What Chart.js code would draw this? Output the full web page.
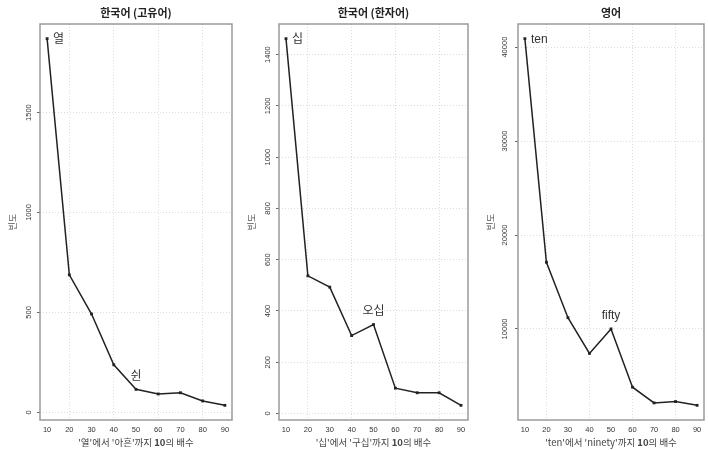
<!DOCTYPE html>
<html>
<head>
<meta charset="utf-8">
<script src="https://cdn.jsdelivr.net/npm/chart.js@4/dist/chart.umd.min.js"></script>
<style>
  body { margin: 0; background: #fff; width: 708px; height: 450px; position: relative; overflow: hidden; }
  canvas { position: absolute; top: 0; }
</style>
</head>
<body>
<canvas id="c1" width="236" height="450" style="left:0"></canvas>
<canvas id="c2" width="236" height="450" style="left:236px"></canvas>
<canvas id="c3" width="236" height="450" style="left:472px"></canvas>
<script>
// x values: multiples of ten
var decades = [10, 20, 30, 40, 50, 60, 70, 80, 90];
var xTicks = [10, 20, 30, 40, 50, 60, 70, 80, 90];
var xGrid = [20, 40, 60, 80];

// frequencies
var nativeFreq = [1870, 688, 492, 238, 115, 92, 98, 57, 35];
var sinoFreq = [1462, 537, 493, 304, 347, 99, 81, 81, 32];
var englishFreq = [40900, 17100, 11200, 7400, 10000, 3800, 2130, 2270, 1870];

// y tick labels
var nativeTicks = [0, 500, 1000, 1500];
var sinoTicks = [0, 200, 400, 600, 800, 1000, 1200, 1400];
var englishTicks = [10000, 20000, 30000, 40000];

var FONT = '"Liberation Sans", "Noto Sans CJK KR", sans-serif';
var KFONT = '"Noto Sans CJK KR", sans-serif';

// draws box, titles and point labels for one panel
function panelText(t) {
    return {
        id: 'panelText',
        afterDraw: function(chart) {
            var ctx = chart.ctx, a = chart.chartArea;
            var cx = (a.left + a.right) / 2;
            ctx.save();
            ctx.strokeStyle = '#9a9a9a';
            ctx.lineWidth = 1.5;
            ctx.strokeRect(a.left, a.top, a.right - a.left, a.bottom - a.top);

            ctx.fillStyle = '#222';
            ctx.textAlign = 'center';
            ctx.textBaseline = 'middle';
            ctx.font = 'bold 11px ' + KFONT;
            ctx.fillText(t.title, cx, 13);

            // x title, with the bold "10"
            var parts = t.xTitle;
            var total = 0;
            parts.forEach(function(p) {
                ctx.font = (p[1] ? 'bold ' : '') + '9.5px ' + KFONT;
                total += ctx.measureText(p[0]).width;
            });
            var x = cx - total / 2;
            ctx.textAlign = 'left';
            ctx.fillStyle = '#444';
            parts.forEach(function(p) {
                ctx.font = (p[1] ? 'bold ' : '') + '9.5px ' + KFONT;
                ctx.fillText(p[0], x, 442);
                x += ctx.measureText(p[0]).width;
            });

            // y title
            ctx.save();
            ctx.translate(a.left - 27, (a.top + a.bottom) / 2);
            ctx.rotate(-Math.PI / 2);
            ctx.textAlign = 'center';
            ctx.font = '9px ' + KFONT;
            ctx.fillStyle = '#555';
            ctx.fillText('빈도', 0, 0);
            ctx.restore();

            // point labels
            var meta = chart.getDatasetMeta(0);
            ctx.font = '12px ' + FONT;
            ctx.fillStyle = '#333';
            t.labels.forEach(function(l) {
                var pt = meta.data[l.index];
                if (l.pos === 'right') {
                    ctx.textAlign = 'left';
                    ctx.fillText(l.text, pt.x + 6, pt.y + 1);
                } else {
                    ctx.textAlign = 'center';
                    ctx.fillText(l.text, pt.x, pt.y - 13);
                }
            });
            ctx.restore();
        }
    };
}

function plain(v) {
    return String(v);
}

function makeChart(id, values, yTicks, yWidth, padRight, text) {
    var lo = Math.min.apply(null, values), hi = Math.max.apply(null, values);
    var ext = (hi - lo) * 0.04;
    return new Chart(document.getElementById(id).getContext('2d'), {
        type: 'line',
        data: {
            labels: decades,
            datasets: [{
                data: decades.map(function(d, i) { return { x: d, y: values[i] }; }),
                borderColor: '#222',
                borderWidth: 1.5,
                pointStyle: 'rect',
                pointRadius: 2,
                pointBackgroundColor: '#222',
                pointBorderWidth: 0,
                tension: 0
            }]
        },
        options: {
            responsive: false,
            animation: false,
            devicePixelRatio: 1,
            layout: { padding: { top: 24, right: padRight, left: 0, bottom: 0 } },
            plugins: { legend: { display: false }, tooltip: { enabled: false } },
            scales: {
                x: {
                    type: 'linear',
                    min: 10 - 3.2,
                    max: 90 + 3.2,
                    afterBuildTicks: function(s) { s.ticks = xTicks.map(function(v) { return { value: v }; }); },
                    afterFit: function(s) { s.height = 30; },
                    ticks: { font: { size: 7.5, family: FONT }, color: '#333', padding: 5, maxRotation: 0, autoSkip: false, callback: plain },
                    grid: {
                        drawTicks: false,
                        color: function(c) { return c.tick && xGrid.indexOf(c.tick.value) >= 0 ? '#dcdcdc' : 'rgba(0,0,0,0)'; }
                    },
                    border: { display: false, dash: [1, 2] }
                },
                y: {
                    min: lo - ext,
                    max: hi + ext,
                    afterBuildTicks: function(s) { s.ticks = yTicks.map(function(v) { return { value: v }; }); },
                    afterFit: function(s) { s.width = yWidth; },
                    ticks: { font: { size: 7.5, family: FONT }, color: '#333', minRotation: 90, maxRotation: 90, crossAlign: 'center', padding: 0, callback: plain },
                    grid: { color: '#dcdcdc', tickColor: '#666', tickLength: 3, tickBorderDash: [] },
                    border: { display: false, dash: [1, 2] }
                }
            }
        },
        plugins: [panelText(text)]
    });
}

makeChart('c1', nativeFreq, nativeTicks, 40, 3, {
    title: '한국어 (고유어)',
    xTitle: [["'열'에서 '아흔'까지 ", false], ['10', true], ['의 배수', false]],
    labels: [{ index: 0, text: '열', pos: 'right' }, { index: 4, text: '쉰', pos: 'top' }]
});
makeChart('c2', sinoFreq, sinoTicks, 43, 1, {
    title: '한국어 (한자어)',
    xTitle: [["'십'에서 '구십'까지 ", false], ['10', true], ['의 배수', false]],
    labels: [{ index: 0, text: '십', pos: 'right' }, { index: 4, text: '오십', pos: 'top' }]
});
makeChart('c3', englishFreq, englishTicks, 46, 0, {
    title: '영어',
    xTitle: [["'ten'에서 'ninety'까지 ", false], ['10', true], ['의 배수', false]],
    labels: [{ index: 0, text: 'ten', pos: 'right' }, { index: 4, text: 'fifty', pos: 'top' }]
});
</script>
</body>
</html>
